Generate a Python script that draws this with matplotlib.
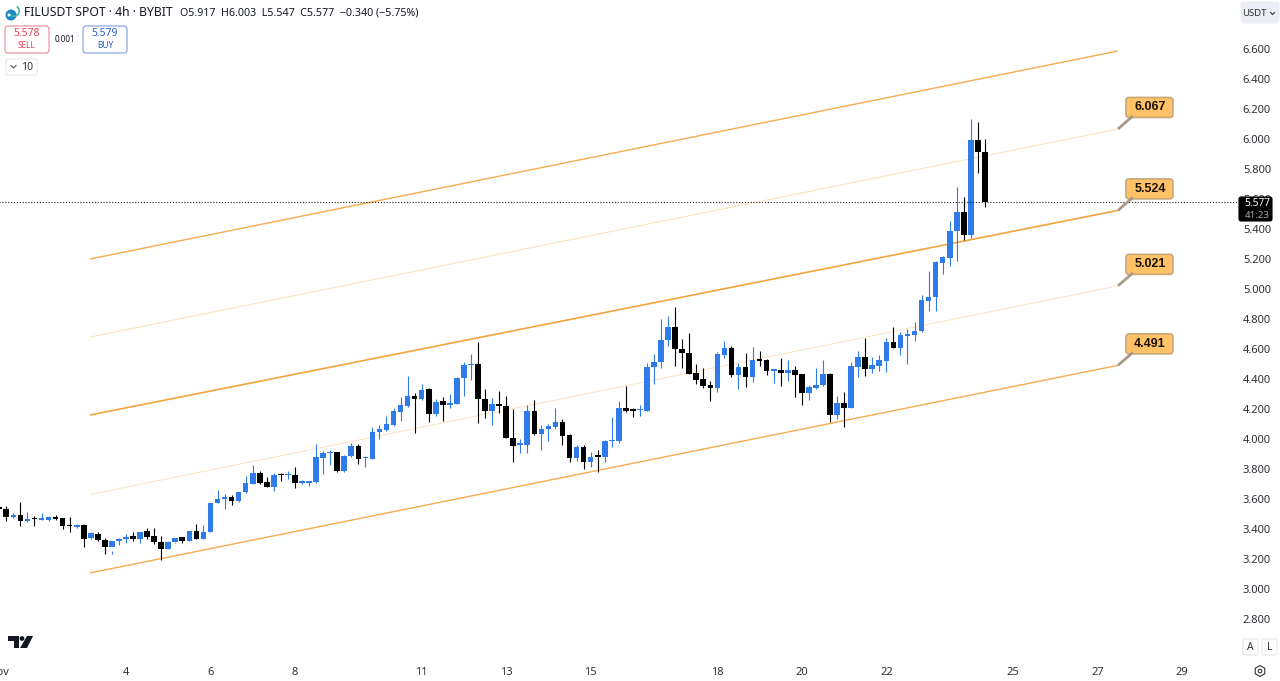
import numpy as np
import matplotlib
matplotlib.use('Agg')
import matplotlib.pyplot as plt
from matplotlib.patches import FancyBboxPatch, Circle, Polygon, Wedge

plt.rcParams['font.family'] = ['Noto Sans', 'DejaVu Sans']

# 4h candles, from Nov 1 00:00 on
opens = [3.54, 3.533, 3.48, 3.493, 3.451, 3.469, 3.462, 3.462, 3.48, 3.471, 3.422, 3.413, 3.426, 3.337, 3.366,
         3.326, 3.282, 3.322, 3.333, 3.351, 3.333, 3.384, 3.351, 3.315, 3.266, 3.311, 3.344, 3.322, 3.384, 3.335, 3.382,
         3.576, 3.6, 3.613, 3.587, 3.644, 3.702, 3.776, 3.711, 3.68, 3.764, 3.758, 3.762, 3.707, 3.709, 3.711, 3.876,
         3.904, 3.911, 3.787, 3.887, 3.953, 3.871, 3.869, 4.044, 4.06, 4.093, 4.182, 4.218, 4.284, 4.264, 4.331, 4.167,
         4.251, 4.224, 4.236, 4.407, 4.491, 4.502, 4.267, 4.187, 4.233, 4.222, 4.009, 3.96, 3.958, 4.184, 4.031, 4.069,
         4.078, 4.111, 4.024, 3.873, 3.949, 3.847, 3.887, 3.88, 3.984, 3.989, 4.204, 4.198, 4.191, 4.189, 4.478, 4.511,
         4.658, 4.744, 4.602, 4.576, 4.438, 4.398, 4.36, 4.34, 4.56, 4.609, 4.427, 4.482, 4.416, 4.531, 4.527, 4.456,
         4.458, 4.44, 4.46, 4.431, 4.307, 4.342, 4.358, 4.433, 4.16, 4.238, 4.209, 4.482, 4.547, 4.467, 4.489, 4.52,
         4.644, 4.609, 4.689, 4.691, 4.718, 4.922, 4.944, 5.176, 5.207, 5.389, 5.515, 5.36, 5.993, 5.915]
highs = [3.55, 3.553, 3.504, 3.582, 3.511, 3.486, 3.504, 3.484, 3.491, 3.431, 3.477, 3.431, 3.433, 3.382, 3.377,
         3.342, 3.233, 3.337, 3.366, 3.382, 3.375, 3.404, 3.404, 3.355, 3.322, 3.315, 3.344, 3.347, 3.433, 3.426, 3.389,
         3.66, 3.633, 3.629, 3.649, 3.753, 3.827, 3.789, 3.744, 3.771, 3.776, 3.787, 3.811, 3.727, 3.722, 3.967, 3.92,
         3.927, 3.911, 3.893, 3.976, 3.967, 3.887, 4.078, 4.093, 4.153, 4.204, 4.278, 4.42, 4.304, 4.364, 4.338, 4.264,
         4.278, 4.3, 4.413, 4.516, 4.564, 4.649, 4.336, 4.271, 4.32, 4.289, 4.198, 3.998, 4.229, 4.26, 4.093, 4.098,
         4.204, 4.131, 4.033, 3.96, 3.958, 3.916, 3.927, 3.993, 4.144, 4.256, 4.353, 4.204, 4.227, 4.504, 4.564, 4.8,
         4.82, 4.882, 4.664, 4.709, 4.5, 4.471, 4.389, 4.582, 4.653, 4.62, 4.509, 4.571, 4.616, 4.587, 4.531, 4.467,
         4.538, 4.527, 4.489, 4.433, 4.36, 4.471, 4.527, 4.442, 4.287, 4.316, 4.516, 4.589, 4.671, 4.549, 4.56, 4.671,
         4.744, 4.716, 4.731, 4.778, 4.96, 5.122, 5.187, 5.22, 5.453, 5.678, 5.611, 6.133, 6.111, 6.003]
lows = [3.52, 3.453, 3.471, 3.42, 3.444, 3.42, 3.46, 3.451, 3.462, 3.402, 3.38, 3.409, 3.277, 3.331, 3.322,
        3.233, 3.255, 3.293, 3.304, 3.322, 3.309, 3.331, 3.3, 3.193, 3.264, 3.306, 3.307, 3.317, 3.331, 3.333, 3.377,
        3.571, 3.531, 3.56, 3.582, 3.64, 3.698, 3.698, 3.682, 3.651, 3.722, 3.731, 3.676, 3.698, 3.687, 3.707, 3.767,
        3.827, 3.782, 3.782, 3.882, 3.833, 3.811, 3.864, 3.998, 4.056, 4.089, 4.122, 4.211, 4.038, 4.26, 4.113, 4.151,
        4.122, 4.207, 4.231, 4.287, 4.393, 4.109, 4.138, 4.093, 4.173, 4.004, 3.849, 3.904, 3.909, 4.027, 3.927, 3.989,
        4.064, 3.958, 3.849, 3.853, 3.798, 3.816, 3.782, 3.849, 3.949, 3.971, 4.182, 4.149, 4.153, 4.184, 4.367, 4.476,
        4.62, 4.489, 4.471, 4.433, 4.367, 4.338, 4.253, 4.316, 4.538, 4.411, 4.331, 4.344, 4.382, 4.489, 4.429, 4.371,
        4.353, 4.387, 4.282, 4.229, 4.26, 4.336, 4.353, 4.116, 4.131, 4.078, 4.204, 4.411, 4.422, 4.438, 4.456, 4.449,
        4.609, 4.56, 4.498, 4.653, 4.713, 4.856, 4.856, 5.1, 5.153, 5.19, 5.33, 5.338, 5.771, 5.547]
closes = [3.533, 3.477, 3.495, 3.453, 3.466, 3.464, 3.466, 3.477, 3.469, 3.422, 3.417, 3.426, 3.335, 3.371, 3.326,
          3.282, 3.322, 3.335, 3.349, 3.333, 3.382, 3.346, 3.313, 3.266, 3.311, 3.34, 3.322, 3.384, 3.335, 3.382, 3.576,
          3.6, 3.613, 3.587, 3.644, 3.707, 3.773, 3.707, 3.682, 3.76, 3.758, 3.762, 3.704, 3.711, 3.713, 3.878, 3.909,
          3.913, 3.787, 3.889, 3.953, 3.869, 3.882, 4.044, 4.064, 4.098, 4.187, 4.224, 4.284, 4.264, 4.327, 4.167, 4.249,
          4.224, 4.24, 4.409, 4.493, 4.502, 4.264, 4.187, 4.233, 4.22, 4.004, 3.956, 3.962, 4.184, 4.031, 4.069, 4.084,
          4.113, 4.022, 3.873, 3.949, 3.847, 3.882, 3.88, 3.987, 3.993, 4.204, 4.189, 4.189, 4.196, 4.482, 4.513, 4.662,
          4.744, 4.598, 4.571, 4.433, 4.393, 4.356, 4.34, 4.564, 4.607, 4.427, 4.48, 4.416, 4.529, 4.52, 4.456, 4.46,
          4.44, 4.46, 4.429, 4.307, 4.344, 4.362, 4.431, 4.16, 4.238, 4.209, 4.487, 4.544, 4.467, 4.491, 4.524, 4.644,
          4.609, 4.696, 4.696, 4.722, 4.927, 4.947, 5.178, 5.211, 5.389, 5.515, 5.36, 5.993, 5.915, 5.577]

# channel lines: start and end price
channel_start = [5.2, 4.68, 4.16, 3.63, 3.107]
channel_end = [6.587, 6.067, 5.524, 5.021, 4.491]
channel_width = [1.0, 0.7, 1.2, 0.7, 1.0]
channel_alpha = [0.9, 0.35, 1.0, 0.3, 0.9]
channel_x = [-5.11, 140.9]

label_values = ['6.067', '5.524', '5.021', '4.491']
label_prices = [6.067, 5.524, 5.021, 4.491]

price_ticks = [2.8, 3.0, 3.2, 3.4, 3.6, 3.8, 4.0, 4.2, 4.4, 4.6, 4.8, 5.0, 5.2, 5.4, 5.6, 5.8, 6.0, 6.2, 6.4, 6.6]
date_ticks = [-18, 0, 12, 24, 42, 54, 66, 84, 96, 108, 126, 138, 150]
date_labels = ['Nov', '4', '6', '8', '11', '13', '15', '18', '20', '22', '25', '27', '29']

last_price = 5.577
BLUE = '#2F7BEA'
BLACK = '#000000'
ORANGE = '#F5A33C'
TICK = '#2f3136'

W, H = 1280, 681
fig = plt.figure(figsize=(12.8, 6.81), dpi=100)
ax = fig.add_axes([-2 / W, 21 / H, 1240 / W, 660 / H])

bars = np.arange(len(opens)) - 18
o = np.array(opens)
c = np.array(closes)
colors = [BLUE if cl >= op else BLACK for op, cl in zip(o, c)]
ax.vlines(bars, lows, highs, colors=colors, lw=0.8, zorder=3)
# keep a visible sliver on the dojis
heights = np.maximum(np.abs(c - o), 0.012)
ax.bar(bars, heights, bottom=np.minimum(o, c), width=0.8, color=colors, linewidth=0, zorder=4)

for s, e, lw, al in zip(channel_start, channel_end, channel_width, channel_alpha):
    ax.plot(channel_x, [s, e], color=ORANGE, lw=lw, alpha=al, zorder=2, solid_capstyle='butt')

ax.axhline(last_price, color='#222222', lw=0.8, ls=(0, (1, 1.6)), zorder=5)

# y range is set so 6.6 lands at row 49 and 2.8 at row 619
ax.set_xlim(-18.18, 157.95)
ax.set_ylim(6.9267 - 660 / 150, 6.9267)
ax.yaxis.tick_right()
ax.set_yticks(price_ticks)
ax.set_yticklabels(['%.3f' % t for t in price_ticks])
ax.set_xticks(date_ticks)
ax.set_xticklabels(date_labels)
ax.tick_params(axis='both', length=0, labelsize=8, labelcolor=TICK)
ax.tick_params(axis='y', pad=3.5)
ax.tick_params(axis='x', pad=5)
for sp in ax.spines.values():
    sp.set_visible(False)

# chart furniture on top, in pixel rows
ui = fig.add_axes([0, 0, 1, 1], facecolor='none')
ui.set_xlim(0, W)
ui.set_ylim(H, 0)
ui.axis('off')


def button(x, y, w, h, ec, fc='white', lw=0.8, r=3):
    ui.add_patch(FancyBboxPatch((x + r, y + r), w - 2 * r, h - 2 * r, boxstyle='round,pad=%d' % r,
                                fc=fc, ec=ec, lw=lw))


# price callouts hang off the end of each channel line
for txt, p in zip(label_values, label_prices):
    px, py = ax.transData.transform((channel_x[1], p))
    row = H - py
    ui.plot([px, px + 15], [row, row - 13], color='#A89A8A', lw=2, solid_capstyle='butt')
    button(px + 8, row - 31.5, 47, 20, '#C9A877', fc='#FFC266', lw=1.2)
    ui.text(px + 32, row - 21.5, txt, fontsize=9, fontweight='bold', family='Liberation Sans',
            color='#1a1206', ha='center', va='center')

ui.add_patch(Circle((11, 15), 5.5, fc='#1E88C7', ec='none'))
ui.add_patch(Wedge((14, 11), 6, 300, 150, width=1.6, fc='#39B5B0', ec='none'))
ui.add_patch(Circle((9, 15), 1.5, fc='white', ec='none'))
ui.text(24, 13, 'FILUSDT SPOT · 4h · BYBIT', fontsize=8.8, color='#131722', va='center')
ui.text(180, 13, 'O5.917  H6.003  L5.547  C5.577  −0.340 (−5.75%)', fontsize=7.7, color='#131722', va='center')

button(5, 26, 44, 27, '#E98A97')
ui.text(27, 34, '5.578', fontsize=7.5, color='#E8435A', ha='center', va='center')
ui.text(27, 46, 'SELL', fontsize=6, color='#E8435A', ha='center', va='center')
ui.text(65, 40, '0.001', fontsize=5.8, color='#131722', ha='center', va='center')
button(83, 26, 44, 27, '#7C9CE8')
ui.text(105, 34, '5.579', fontsize=7.5, color='#2962C8', ha='center', va='center')
ui.text(105, 46, 'BUY', fontsize=6, color='#2962C8', ha='center', va='center')
button(6, 59, 31, 16, '#E6E7EB', r=2)
ui.plot([11, 13.5, 16], [65.5, 68, 65.5], color='#555', lw=0.8)
ui.text(27, 67, '10', fontsize=7.5, color='#333', ha='center', va='center')

button(1241, 2, 38, 21, '#ECEEF5', fc='#ECEEF5')
ui.text(1254, 13, 'USDT', fontsize=6.8, color='#2a2e39', ha='center', va='center')
ui.plot([1270.5, 1272.5, 1274.5], [12.5, 14.5, 12.5], color='#333', lw=0.8)

# last price tag covers the 5.600 tick
button(1239, 197, 33, 24, '#000000', fc='#000000', r=2)
ui.text(1257, 203.5, '5.577', fontsize=7.3, color='white', ha='center', va='center')
ui.text(1257, 215, '41:23', fontsize=7, color='#A8A8A8', ha='center', va='center')

button(1243, 639, 15, 16, '#E6E7EB', r=2)
ui.text(1250.5, 647, 'A', fontsize=7.5, color='#333', ha='center', va='center')
button(1262, 639, 15, 16, '#E6E7EB', r=2)
ui.text(1269.5, 647, 'L', fontsize=7.5, color='#333', ha='center', va='center')

# settings gear
ang = np.deg2rad(np.arange(30, 390, 60))
ui.add_patch(Polygon(np.c_[1260 + 5.5 * np.cos(ang), 671 + 5.5 * np.sin(ang)], closed=True,
                     fc='none', ec='#333', lw=0.8))
ui.add_patch(Circle((1260, 671), 1.8, fc='none', ec='#333', lw=0.8))

# TradingView logo
ui.add_patch(Polygon([[8, 636], [19, 636], [19, 648], [14, 648], [14, 641], [8, 641]], closed=True, fc='#131722', ec='none'))
ui.add_patch(Circle((22, 638.5), 2.4, fc='#131722', ec='none'))
ui.add_patch(Polygon([[27, 636], [33, 636], [27, 648], [20, 648]], closed=True, fc='#131722', ec='none'))

fig.savefig('out.png', dpi=100, facecolor='white')
